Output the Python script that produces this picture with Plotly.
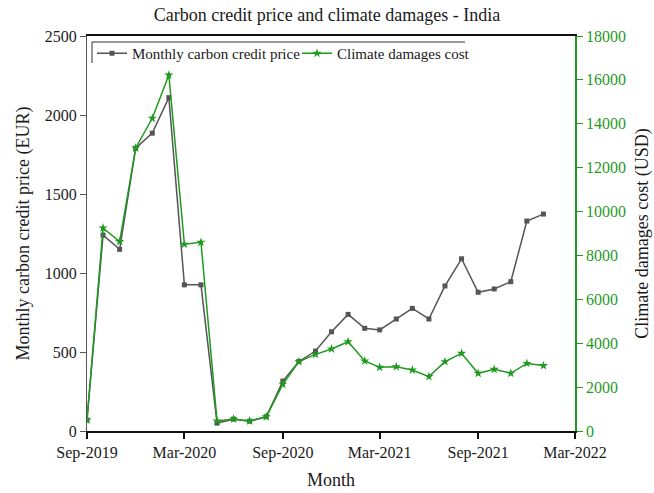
import pandas as pd
import plotly.graph_objects as go

# Monthly observations, Sep-2019 .. Jan-2022
months = pd.date_range("2019-09-01", "2022-01-01", freq="MS")

carbon_price_eur = [70, 1240, 1150, 1790, 1885, 2110, 925, 925, 50, 75, 62, 90,
                    316, 440, 506, 628, 738, 650, 640, 709, 776, 709, 918, 1090,
                    878, 899, 945, 1329, 1373]

damages_usd = [500, 9250, 8630, 12900, 14250, 16220, 8510, 8600, 456, 550, 456, 650,
               2130, 3160, 3490, 3740, 4070, 3190, 2900, 2930, 2780, 2480, 3160, 3540,
               2630, 2810, 2630, 3080, 2980]

FONT = "Liberation Serif, Times New Roman, serif"
GRAY = "#555555"
GREEN = "#1f9a1f"

W, H = 654, 493
L, R, T, B = 87, 79, 36, 62
pw, ph = W - L - R, H - T - B


def px_x(x):
    return (x - L) / pw


def px_y(y):
    return (H - B - y) / ph


fig = go.Figure()
fig.add_trace(go.Scatter(
    x=months, y=carbon_price_eur, name="Monthly carbon credit price",
    mode="lines+markers",
    line=dict(color=GRAY, width=1.5),
    marker=dict(symbol="square", size=5, color=GRAY),
    yaxis="y",
))
fig.add_trace(go.Scatter(
    x=months, y=damages_usd, name="Climate damages cost",
    mode="lines+markers",
    line=dict(color=GREEN, width=1.5),
    marker=dict(symbol="star", size=7, color=GREEN),
    yaxis="y2",
))

# legend frame: top and left edges
fig.add_shape(type="line", xref="paper", yref="paper",
              x0=px_x(92), x1=px_x(465), y0=px_y(42), y1=px_y(42),
              line=dict(color="#333333", width=1))
fig.add_shape(type="line", xref="paper", yref="paper",
              x0=px_x(92), x1=px_x(92), y0=px_y(42), y1=px_y(63),
              line=dict(color="#333333", width=1))

fig.update_layout(
    width=W, height=H,
    margin=dict(l=L, r=R, t=T, b=B, autoexpand=False),
    paper_bgcolor="white", plot_bgcolor="white",
    font=dict(family=FONT, size=16, color="#1a1a1a"),
    title=dict(text="Carbon credit price and climate damages - India",
               x=0.5, xanchor="center", y=1 - 15 / H, yanchor="middle",
               font=dict(family=FONT, size=18, color="#1a1a1a")),
    showlegend=True,
    legend=dict(orientation="h", x=px_x(92), y=px_y(37), xanchor="left", yanchor="top",
                bgcolor="rgba(0,0,0,0)", borderwidth=0,
                entrywidth=160, entrywidthmode="pixels",
                font=dict(family=FONT, size=15, color="#1a1a1a")),
    xaxis=dict(
        type="date", automargin=False,
        range=["2019-09-01", "2022-03-01"],
        tick0="2019-09-01", dtick="M6", tickformat="%b-%Y",
        showgrid=False, zeroline=False,
        showline=True, linecolor="#111111", linewidth=1.5, mirror=True,
        ticks="outside", ticklen=6, tickcolor="#111111", tickwidth=1.5,
        tickfont=dict(family=FONT, size=16, color="#1a1a1a"),
        title=dict(text="Month", font=dict(family=FONT, size=18, color="#1a1a1a"), standoff=12),
    ),
    yaxis=dict(
        automargin=False,
        range=[0, 2500], dtick=500,
        showgrid=False, zeroline=False,
        showline=True, linecolor=GRAY, linewidth=1.2,
        ticks="outside", ticklen=6, tickcolor=GRAY,
        tickfont=dict(family=FONT, size=16, color="#1a1a1a"),
        title=dict(text="Monthly carbon credit price (EUR)",
                   font=dict(family=FONT, size=18, color="#1a1a1a"), standoff=10),
    ),
    yaxis2=dict(
        overlaying="y", side="right", anchor="x", automargin=False,
        range=[0, 18000], dtick=2000, tickformat="d",
        showgrid=False, zeroline=False,
        showline=True, linecolor=GREEN, linewidth=1.5,
        ticks="outside", ticklen=6, tickcolor=GREEN,
        tickfont=dict(family=FONT, size=16, color=GREEN),
        title=dict(text="Climate damages cost (USD)",
                   font=dict(family=FONT, size=18, color="#1a1a1a"), standoff=10),
    ),
)

fig.write_html("out.html")
